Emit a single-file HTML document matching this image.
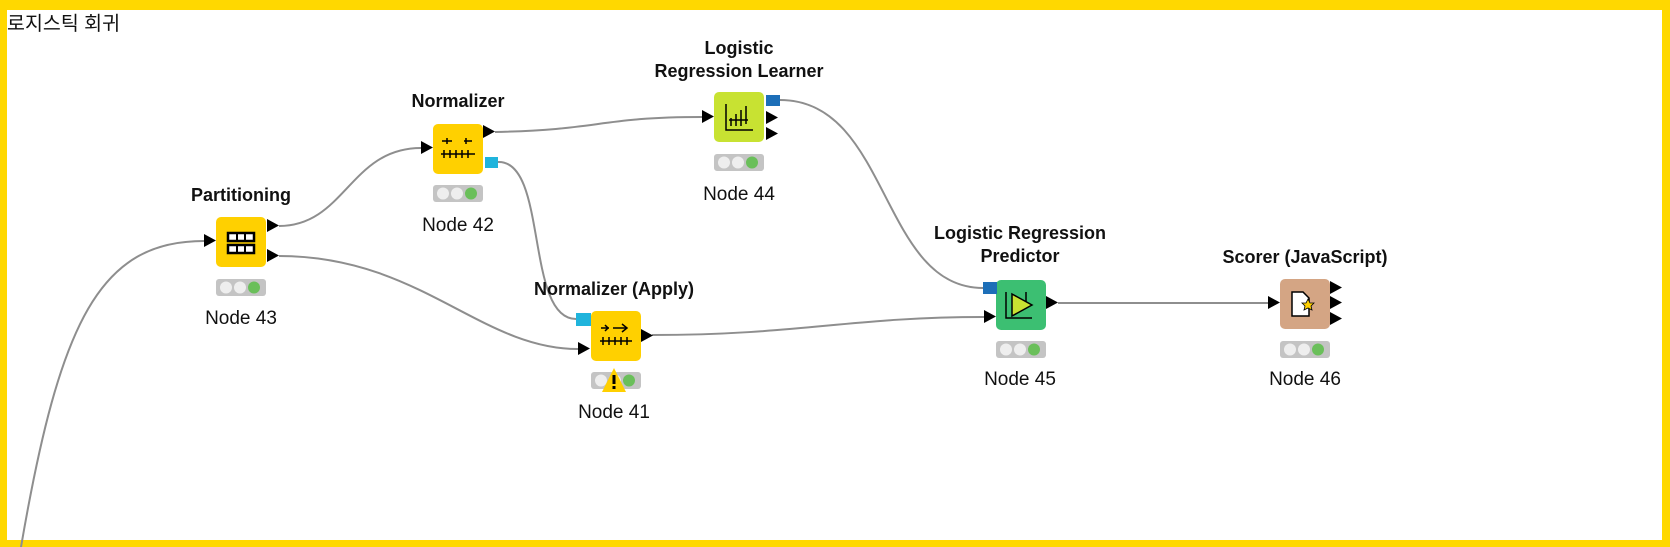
<!DOCTYPE html>
<html><head><meta charset="utf-8"><style>
html,body{margin:0;padding:0;background:#fff;}
svg{display:block;}
text{font-family:"Liberation Sans","Noto Sans CJK KR",sans-serif;}
.t{font-size:18px;font-weight:bold;fill:#111;text-anchor:middle;}
.n{font-size:19px;fill:#111;text-anchor:middle;}
.c{fill:none;stroke:#8e8e8e;stroke-width:2;}
</style></head><body>
<svg width="1670" height="547" viewBox="0 0 1670 547" xmlns="http://www.w3.org/2000/svg">
<rect x="0" y="0" width="1670" height="547" fill="#ffd800"/>
<rect x="7" y="10" width="1655" height="530" fill="#fff"/>
<text x="7" y="30" style="font-size:19.5px;fill:#111;">로지스틱 회귀</text>

<!-- connections -->
<path class="c" d="M21 547 C 60 320, 100 241, 204 241"/>
<path class="c" d="M279 226 C 345 226, 350 148, 421 148"/>
<path class="c" d="M279 256 C 420 256, 480 349, 578 349"/>
<path class="c" d="M495 132 C 600 130, 600 117, 702 117"/>
<path class="c" d="M498 162 C 548 160, 525 319, 576 319"/>
<path class="c" d="M780 100 C 890 100, 880 288, 983 288"/>
<path class="c" d="M652 335 C 800 335, 850 317, 984 317"/>
<path class="c" d="M1058 303 L 1268 303"/>

<defs>
<g id="st"><rect x="0" y="0" width="50" height="17" rx="3" fill="#c4c4c4"/><circle cx="10" cy="8.5" r="6" fill="#eee"/><circle cx="24" cy="8.5" r="6" fill="#eee"/><circle cx="38" cy="8.5" r="6" fill="#6abf5a"/></g>
<path id="ar" d="M0 0 L12 6.5 L0 13 Z" fill="#000"/>
</defs>

<!-- Partitioning -->
<text class="t" x="241" y="201">Partitioning</text>
<rect x="216" y="217" width="50" height="50" rx="5" fill="#ffd000"/>
<g fill="#fff" stroke="#000" stroke-width="2.5"><rect x="228" y="233" width="26" height="8"/><rect x="228" y="245" width="26" height="8"/></g>
<g stroke="#000" stroke-width="2"><line x1="237" y1="233" x2="237" y2="241"/><line x1="245" y1="233" x2="245" y2="241"/><line x1="237" y1="245" x2="237" y2="253"/><line x1="245" y1="245" x2="245" y2="253"/></g>
<use href="#ar" x="204" y="234"/><use href="#ar" x="267" y="219"/><use href="#ar" x="267" y="249"/>
<use href="#st" x="216" y="279"/>
<text class="n" x="241" y="324">Node 43</text>

<!-- Normalizer -->
<text class="t" x="458" y="107">Normalizer</text>
<rect x="433" y="124" width="50" height="50" rx="5" fill="#ffd000"/>
<g stroke="#000" stroke-width="1.5" fill="none"><path d="M442 141 h6 M452 141 h-6 M466 141 h6 M470 141 h-6"/><line x1="447" y1="138" x2="447" y2="144"/><line x1="466" y1="138" x2="466" y2="144"/><line x1="441" y1="154" x2="475" y2="154"/><path d="M444 150v8 M450 150v8 M456 150v8 M462 150v8 M468 150v8"/></g>
<use href="#ar" x="421" y="141"/><use href="#ar" x="483" y="125"/>
<rect x="485" y="157" width="13" height="11" fill="#20b4dc"/>
<use href="#st" x="433" y="185"/>
<text class="n" x="458" y="231">Node 42</text>

<!-- Learner -->
<text class="t" x="739" y="54">Logistic</text>
<text class="t" x="739" y="77">Regression Learner</text>
<rect x="714" y="92" width="50" height="50" rx="5" fill="#c8e232"/>
<g stroke="#000" stroke-width="1.5" fill="none"><path d="M726 104 V130 H753"/><path d="M731 126 V118 M736 126 V114 M741 126 V110 M746 124 V106"/><path d="M729 120 H748"/></g>
<use href="#ar" x="702" y="110"/><use href="#ar" x="766" y="111"/><use href="#ar" x="766" y="127"/>
<rect x="766" y="95" width="14" height="11" fill="#1d6fb8"/>
<use href="#st" x="714" y="154"/>
<text class="n" x="739" y="200">Node 44</text>

<!-- Normalizer Apply -->
<text class="t" x="614" y="295">Normalizer (Apply)</text>
<rect x="591" y="311" width="50" height="50" rx="5" fill="#ffd000"/>
<g stroke="#000" stroke-width="1.5" fill="none"><path d="M601 328 h8 M613 328 h13"/><path d="M622 324 l5 4 l-5 4"/><path d="M605 325 l3 3 l-3 3"/><line x1="600" y1="341" x2="632" y2="341"/><path d="M603 337v8 M609 337v8 M615 337v8 M621 337v8 M627 337v8"/></g>
<use href="#ar" x="578" y="342"/><use href="#ar" x="641" y="329"/>
<rect x="576" y="313" width="15" height="13" fill="#20b4dc"/>
<use href="#st" x="591" y="372"/>
<path d="M614 368 L626 392 L602 392 Z" fill="#ffd000"/>
<rect x="612.5" y="375" width="3" height="9" fill="#000"/><rect x="612.5" y="386" width="3" height="3" fill="#000"/>
<text class="n" x="614" y="418">Node 41</text>

<!-- Predictor -->
<text class="t" x="1020" y="239">Logistic Regression</text>
<text class="t" x="1020" y="262">Predictor</text>
<rect x="996" y="280" width="50" height="50" rx="5" fill="#3cbf72"/>
<g stroke="#000" stroke-width="1.5"><path d="M1006 292 V318 H1032" fill="none"/><path d="M1012 294 L1032 305 L1012 316 Z" fill="#c8e232"/><path d="M1026 292 v10" fill="none"/></g>
<use href="#ar" x="984" y="310"/><use href="#ar" x="1046" y="296"/>
<rect x="983" y="282" width="14" height="12" fill="#1d6fb8"/>
<use href="#st" x="996" y="341"/>
<text class="n" x="1020" y="385">Node 45</text>

<!-- Scorer -->
<text class="t" x="1305" y="263">Scorer (JavaScript)</text>
<rect x="1280" y="279" width="50" height="50" rx="5" fill="#d4a584"/>
<path d="M1292 292 H1303 L1309 298 V316 H1292 Z" fill="#fff" stroke="#000" stroke-width="1.5"/>
<path d="M1308 299 l2 4 4 0 -3 3 1 4 -4-2 -4 2 1-4 -3-3 4 0z" fill="#ffd000" stroke="#000" stroke-width="0.8"/>
<use href="#ar" x="1268" y="296"/><use href="#ar" x="1330" y="281"/><use href="#ar" x="1330" y="296"/><use href="#ar" x="1330" y="312"/>
<use href="#st" x="1280" y="341"/>
<text class="n" x="1305" y="385">Node 46</text>
</svg>
</body></html>
